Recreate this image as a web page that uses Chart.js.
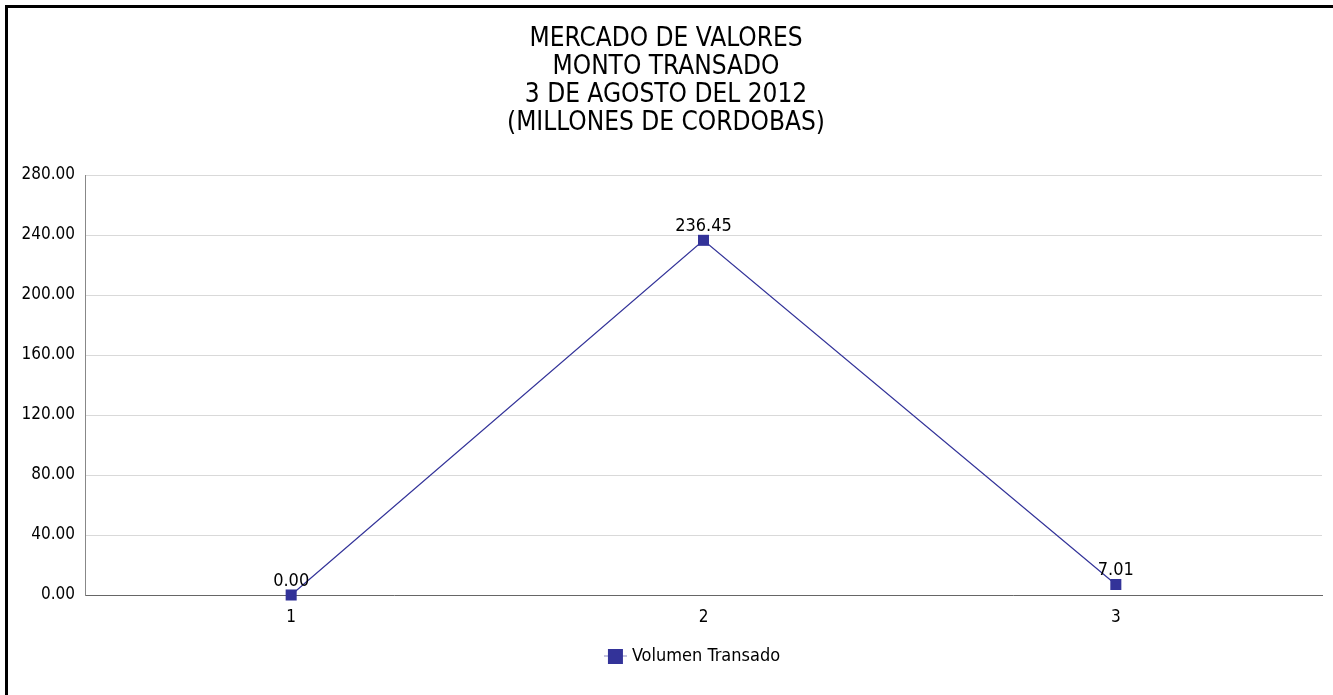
<!DOCTYPE html>
<html>
<head>
<meta charset="utf-8">
<script src="https://cdn.jsdelivr.net/npm/chart.js@4"></script>
<style>
  html, body { margin: 0; padding: 0; background: #fff; }
  #wrap { position: absolute; left: 0; top: 0; width: 1333px; height: 695px; }
  #frame { position: absolute; left: 5px; top: 5px; width: 1400px; height: 800px; border-left: 3px solid #000; border-top: 3px solid #000; box-sizing: border-box; pointer-events: none; }
</style>
</head>
<body>
<div id="wrap"><canvas id="c" width="1333" height="695"></canvas></div>
<div id="frame"></div>
<script>
const titleLines = ["MERCADO DE VALORES", "MONTO TRANSADO", "3 DE AGOSTO DEL 2012", "(MILLONES DE CORDOBAS)"];
const categories = ["1", "2", "3"];
const seriesName = "Volumen Transado";
const seriesValues = [0.00, 236.45, 7.01];
const yTicks = [0, 40, 80, 120, 160, 200, 240, 280];

const FONT = "'DejaVu Sans Condensed', 'DejaVu Sans', sans-serif";
const LINE = "#333399";

// legend marker: a short line with a square on it
const marker = document.createElement('canvas');
marker.width = 23; marker.height = 15;
(function () {
  const m = marker.getContext('2d');
  m.strokeStyle = "#8a8ac0";
  m.lineWidth = 1;
  m.beginPath(); m.moveTo(0, 7.5); m.lineTo(23, 7.5); m.stroke();
  m.fillStyle = LINE;
  m.fillRect(4, 0, 15, 15);
})();

const labelPlugin = {
  id: 'pointLabels',
  afterDatasetsDraw(chart) {
    const ctx = chart.ctx;
    const meta = chart.getDatasetMeta(0);
    ctx.save();
    ctx.font = "18px " + FONT;
    ctx.fillStyle = "#000";
    ctx.textAlign = "center";
    ctx.textBaseline = "bottom";
    meta.data.forEach((pt, i) => {
      ctx.fillText(seriesValues[i].toFixed(2), pt.x, pt.y - 5);
    });
    ctx.restore();
  }
};

const legendShift = {
  id: 'legendShift',
  afterLayout(chart) {
    if (chart.legend) { chart.legend.left += 28; chart.legend.right += 28; }
  }
};

new Chart(document.getElementById('c'), {
  type: 'line',
  data: {
    labels: categories,
    datasets: [{
      label: seriesName,
      data: seriesValues,
      borderColor: LINE,
      backgroundColor: LINE,
      borderWidth: 1.2,
      pointStyle: 'rect',
      pointRadius: 7.8,
      pointHoverRadius: 7.8,
      pointBorderWidth: 0,
      pointBackgroundColor: LINE,
      tension: 0,
      clip: false
    }]
  },
  options: {
    responsive: false,
    animation: false,
    devicePixelRatio: 1,
    layout: { padding: { left: 10, right: 11, top: 0, bottom: 20 } },
    plugins: {
      title: {
        display: true,
        text: titleLines,
        color: "#000",
        font: { family: FONT, size: 26, weight: 'normal', lineHeight: 28 / 26 },
        padding: { top: 25, bottom: 38 }
      },
      legend: {
        display: true,
        position: 'bottom',
        labels: {
          usePointStyle: true,
          pointStyle: marker,
          boxWidth: 15,
          boxHeight: 15,
          color: "#000",
          font: { family: FONT, size: 18 },
          padding: 10
        }
      },
      tooltip: { enabled: false }
    },
    scales: {
      x: {
        offset: true,
        afterFit(scale) { scale.height = 42; },
        grid: { display: false },
        border: { color: "#666", width: 1 },
        ticks: { color: "#000", font: { family: FONT, size: 17 }, padding: 4 }
      },
      y: {
        min: 0,
        max: 280,
        afterFit(scale) { scale.width = 75; },
        afterBuildTicks(scale) { scale.ticks = yTicks.map(v => ({ value: v })); },
        grid: { color: "#d9d9d9", drawTicks: false },
        border: { color: "#888", width: 1 },
        ticks: {
          color: "#000",
          font: { family: FONT, size: 17 },
          padding: 10,
          callback: v => Number(v).toFixed(2)
        }
      }
    }
  },
  plugins: [labelPlugin, legendShift]
});
</script>
</body>
</html>
